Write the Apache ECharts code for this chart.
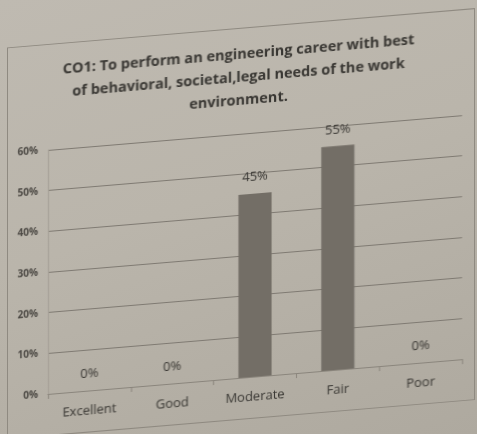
<!DOCTYPE html>
<html>
<head>
<meta charset="utf-8">
<script src="https://cdn.jsdelivr.net/npm/echarts@6/dist/echarts.min.js"></script>
<style>
  html, body { margin: 0; padding: 0; width: 477px; height: 434px; overflow: hidden; }
  body { background: linear-gradient(160deg, #bfbab1 0%, #bab5ab 45%, #aea99f 100%); }
  #sheet {
    position: absolute; left: 0; top: 0; width: 477px; height: 434px;
    transform: skewY(-4.8deg); transform-origin: 238px 217px;
  }
  #frame {
    position: absolute; left: 7px; top: 28px; width: 468px; height: 392px;
    border: 1.5px solid #8f8a81; box-sizing: border-box;
  }
  #chart { position: absolute; left: 0; top: 0; width: 477px; height: 434px; }
</style>
</head>
<body>
<div id="sheet">
  <div id="frame"></div>
  <div id="chart"></div>
</div>
<script>
// Survey outcome CO1: share of responses per rating
const titleLines = [
  'CO1: To perform an engineering career with best',
  'of behavioral, societal,legal needs of the work',
  'environment.'
];
const categories = ['Excellent', 'Good', 'Moderate', 'Fair', 'Poor'];
const percentages = [0, 0, 45, 55, 0];
const yTicks = { min: 0, max: 60, interval: 10 };

const chart = echarts.init(document.getElementById('chart'), null, { renderer: 'canvas' });
const textDark = '#383632';

chart.setOption({
  backgroundColor: 'transparent',
  title: {
    text: titleLines.join('\n'),
    left: 'center',
    top: 38,
    textStyle: {
      fontFamily: 'Open Sans',
      fontWeight: 'bold',
      fontSize: 14.5,
      lineHeight: 23,
      color: textDark
    }
  },
  grid: { left: 48, right: 15, top: 134, bottom: 56 },
  xAxis: {
    type: 'category',
    data: categories,
    axisLine: { lineStyle: { color: '#8a857c', width: 1.2 } },
    axisTick: { show: true, lineStyle: { color: '#8a857c' } },
    axisLabel: {
      fontFamily: 'Open Sans',
      fontSize: 13,
      color: textDark,
      margin: 14
    }
  },
  yAxis: {
    type: 'value',
    min: yTicks.min,
    max: yTicks.max,
    interval: yTicks.interval,
    axisLine: { show: true, lineStyle: { color: '#a39e95' } },
    axisTick: { show: false },
    axisLabel: {
      formatter: '{value}%',
      fontFamily: 'Open Sans',
      fontWeight: 'bold',
      fontSize: 10,
      color: '#4a4742',
      margin: 10
    },
    splitLine: { lineStyle: { color: '#7f7a72', width: 1.2 } }
  },
  series: [{
    type: 'bar',
    data: percentages,
    barWidth: '40%',
    itemStyle: { color: '#736e66' },
    label: {
      show: true,
      position: 'top',
      distance: 10,
      formatter: '{c}%',
      fontFamily: 'Open Sans',
      fontSize: 13,
      color: textDark
    }
  }],
  animation: false
});
</script>
</body>
</html>
